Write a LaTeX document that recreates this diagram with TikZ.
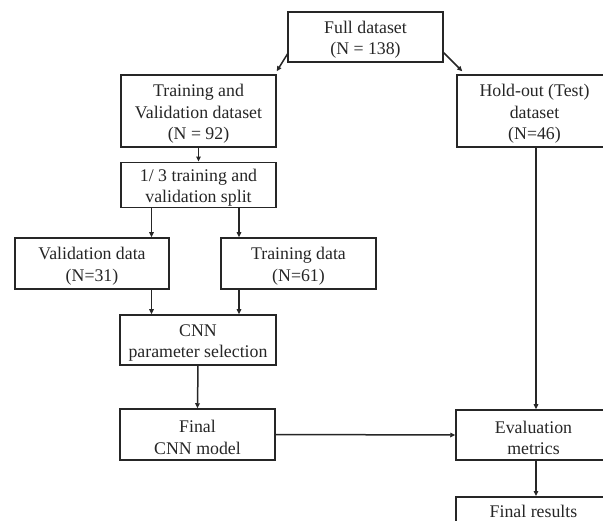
\documentclass[tikz,border=0pt]{standalone}
\usepackage{fontspec}
\setmainfont{Liberation Serif}
\usetikzlibrary{arrows.meta,calc}
\definecolor{ink}{HTML}{262626}
\newcommand\toprl{\rule{0pt}{18pt}}
\tikzset{
  box/.style={draw=ink, line width=1.5pt, fill=white, text=ink, align=center,
    minimum width=155pt, inner sep=1pt,
    font=\fontsize{17.8pt}{21.7pt}\selectfont},
  arr/.style={draw=ink, line width=1.5pt, -{Triangle[length=5pt,width=4.5pt]}}
}
\begin{document}
\begin{tikzpicture}[x=1pt,y=-1pt]
\useasboundingbox (0,0) rectangle (603,521);
\clip (0,0) rectangle (603,521);
\fill[white] (0,0) rectangle (603,521);
\node[box, minimum height=50pt] (full) at (365.5,37) {\toprl Full dataset\\(N = 138)};
\node[box, minimum height=72pt] (tv) at (198.5,111) {\toprl Training and\\Validation dataset\\(N = 92)};
\node[box, minimum height=72pt] (ho) at (534.5,111) {\toprl Hold-out (Test)\\dataset\\(N=46)};
\node[box, minimum height=44pt] (split) at (198.5,185) {\toprl 1/ 3 training and\\validation split};
\node[box, minimum width=154pt, minimum height=51pt] (val) at (92,263.5) {\toprl Validation data\\(N=31)};
\node[box, minimum height=51pt] (trn) at (298.5,263.5) {\toprl Training data\\(N=61)};
\node[box, minimum width=156pt, minimum height=50pt] (cnn) at (198,340) {\toprl CNN\\parameter selection};
\node[box, minimum height=51pt] (fin) at (197.5,434.5) {\toprl Final\\CNN model};
\node[box, minimum height=50pt] (eval) at (533.5,435) {\toprl Evaluation\\metrics};
\node[box, anchor=north, text height=17pt, text depth=25pt, inner ysep=4pt] (fr) at (533.5,496) {Final results};
\coordinate (va) at (151.5,0);
\coordinate (tr) at (239,0);
\draw[arr] ($(full.south west)+(1,-10)$) -- ($(tv.north east)+(0,-3)$);
\draw[arr] ($(full.south east)+(0,-10)$) -- ($(ho.north west)+(6,-3)$);
\draw[arr] (tv.south) -- (split.north);
\draw[arr] (va |- split.south) -- (va |- val.north);
\draw[arr] (tr |- split.south) -- (tr |- trn.north);
\draw[arr] (va |- val.south) -- (va |- cnn.north);
\draw[arr] (tr |- trn.south) -- (tr |- cnn.north);
\draw[arr] (cnn.south) -- (fin.north);
\draw[arr] (fin.east) -- (eval.west);
\draw[arr] ($(ho.south)+(1.5,0)$) -- ($(eval.north)+(2.5,0)$);
\draw[arr] ($(eval.south)+(2.5,0)$) -- ($(fr.north)+(2.5,0)$);
\end{tikzpicture}
\end{document}
